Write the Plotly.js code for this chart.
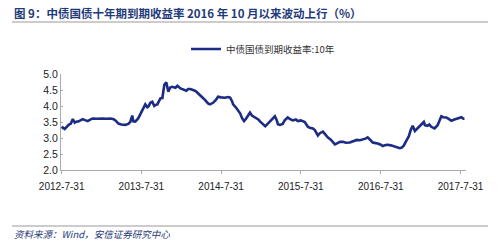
<!DOCTYPE html>
<html>
<head>
<meta charset="utf-8">
<script src="https://cdn.plot.ly/plotly-3.0.1.min.js"></script>
<style>html,body{margin:0;padding:0;background:#fff;}#chart{width:500px;height:241px;}</style>
</head>
<body>
<div id="chart"></div>
<script>
const dates = [
"2012-07-31","2012-08-05","2012-08-14","2012-08-23","2012-09-01","2012-09-11","2012-09-20","2012-09-29","2012-10-03","2012-10-17",
"2012-10-26","2012-11-04","2012-11-18","2012-11-27","2012-12-11","2012-12-20","2013-01-07","2013-01-26","2013-02-04","2013-02-22",
"2013-03-12","2013-03-26","2013-04-03","2013-04-17","2013-04-30","2013-05-18","2013-06-01","2013-06-10","2013-06-19","2013-06-24",
"2013-07-03","2013-07-17","2013-07-26","2013-08-04","2013-08-13","2013-08-18","2013-08-27","2013-09-01","2013-09-10","2013-09-19",
"2013-09-28","2013-10-03","2013-10-12","2013-10-21","2013-10-26","2013-11-04","2013-11-09","2013-11-13","2013-11-22","2013-11-27",
"2013-12-01","2013-12-10","2013-12-19","2014-01-03","2014-01-12","2014-01-26","2014-02-09","2014-02-22","2014-03-02","2014-03-11",
"2014-03-25","2014-04-07","2014-04-16","2014-04-26","2014-05-09","2014-05-18","2014-06-01","2014-06-10","2014-06-24","2014-07-08",
"2014-07-17","2014-07-31","2014-08-18","2014-09-01","2014-09-10","2014-09-19","2014-09-24","2014-10-07","2014-10-16","2014-10-26",
"2014-11-04","2014-11-13","2014-11-22","2014-12-01","2014-12-10","2014-12-19","2015-01-03","2015-01-17","2015-01-26","2015-02-04",
"2015-02-18","2015-03-02","2015-03-11","2015-03-20","2015-04-03","2015-04-12","2015-04-17","2015-04-26","2015-05-09","2015-05-18",
"2015-06-01","2015-06-10","2015-06-24","2015-07-08","2015-07-17","2015-07-31","2015-08-09","2015-08-18","2015-09-01","2015-09-10",
"2015-09-24","2015-10-03","2015-10-17","2015-10-26","2015-11-09","2015-11-22","2015-12-01","2015-12-15","2015-12-24","2016-01-03",
"2016-01-17","2016-01-26","2016-02-09","2016-02-22","2016-03-11","2016-03-25","2016-04-12","2016-04-26","2016-05-09","2016-05-22",
"2016-06-01","2016-06-10","2016-06-24","2016-07-08","2016-07-17","2016-07-31","2016-08-09","2016-08-22","2016-09-01","2016-09-15",
"2016-09-29","2016-10-16","2016-10-26","2016-11-04","2016-11-13","2016-11-27","2016-12-06","2016-12-15","2016-12-24","2017-01-03",
"2017-01-12","2017-01-26","2017-02-04","2017-02-13","2017-02-18","2017-03-01","2017-03-10","2017-03-19","2017-04-03","2017-04-17",
"2017-04-26","2017-05-04","2017-05-13","2017-05-27","2017-06-10","2017-06-19","2017-07-03","2017-07-12","2017-07-26","2017-08-04",
"2017-08-13","2017-08-18"
];
const yields = [
3.30,3.33,3.28,3.36,3.41,3.45,3.59,3.48,3.50,3.52,
3.55,3.59,3.55,3.53,3.58,3.61,3.60,3.62,3.61,3.60,
3.61,3.59,3.55,3.45,3.42,3.41,3.44,3.50,3.70,3.52,
3.51,3.62,3.74,3.82,3.95,4.05,3.96,3.98,4.10,4.13,
4.00,4.03,4.05,4.15,4.24,4.25,4.55,4.66,4.74,4.55,
4.45,4.58,4.60,4.57,4.63,4.55,4.50,4.48,4.53,4.53,
4.50,4.46,4.40,4.32,4.25,4.19,4.08,4.05,4.10,4.20,
4.29,4.27,4.26,4.28,4.26,4.15,4.05,3.95,3.85,3.77,
3.62,3.53,3.60,3.72,3.79,3.70,3.65,3.58,3.51,3.45,
3.37,3.45,3.51,3.60,3.68,3.55,3.43,3.41,3.44,3.55,
3.64,3.60,3.55,3.58,3.53,3.55,3.52,3.50,3.35,3.32,
3.30,3.25,3.08,3.15,3.20,3.10,3.02,2.95,2.88,2.80,
2.85,2.88,2.88,2.85,2.86,2.90,2.94,2.93,2.95,2.98,
3.02,2.95,2.86,2.84,2.83,2.79,2.75,2.78,2.79,2.77,
2.74,2.72,2.68,2.70,2.76,2.94,3.05,3.25,3.38,3.22,
3.28,3.38,3.45,3.50,3.40,3.38,3.42,3.35,3.30,3.40,
3.55,3.68,3.65,3.64,3.58,3.54,3.58,3.60,3.63,3.65,
3.60,3.60
];
const seriesName = "中债国债到期收益率:10年";
const tickDates = ["2012-07-31","2013-07-31","2014-07-31","2015-07-31","2016-07-31","2017-07-31"];
const tickLabels = ["2012-7-31","2013-7-31","2014-7-31","2015-7-31","2016-7-31","2017-7-31"];
const yTicks = [2.0,2.5,3.0,3.5,4.0,4.5,5.0];
const titleText = "图 9：中债国债十年期到期收益率 2016 年 10 月以来波动上行（%）";
const sourceText = "资料来源：Wind，安信证券研究中心";

const W = 500, H = 241, L = 61, R = 34, T = 74, B = 71;
const px = x => (x - L) / (W - L - R);
const py = y => (H - B - y) / (H - T - B);

const trace = {
  x: dates, y: yields, type: 'scatter', mode: 'lines', name: seriesName,
  line: {color: '#1c2b84', width: 2.6}
};

const layout = {
  width: W, height: H,
  margin: {l: L, r: R, t: T, b: B},
  paper_bgcolor: '#fff', plot_bgcolor: '#fff',
  font: {family: 'Liberation Sans, Arial, sans-serif', color: '#222', size: 10},
  showlegend: true,
  legend: {orientation: 'h', x: px(186), y: py(49), xanchor: 'left', yanchor: 'middle',
    font: {size: 9.5, color: '#333', family: 'Noto Sans CJK SC, sans-serif'}, bgcolor: 'rgba(0,0,0,0)', itemwidth: 30},
  xaxis: {type: 'date', range: ['2012-07-28','2017-08-25'], tickvals: tickDates, ticktext: tickLabels,
    showgrid: false, zeroline: false, showline: true, linecolor: '#aaa', linewidth: 1,
    ticks: 'outside', ticklen: 3, tickcolor: '#aaa', ticklabelstandoff: 4, tickfont: {size: 10, color: '#222'}},
  yaxis: {range: [2.0, 5.0], tickvals: yTicks, ticktext: yTicks.map(v => v.toFixed(1)),
    showgrid: false, zeroline: false, showline: true, linecolor: '#aaa', linewidth: 1,
    ticks: 'inside', ticklen: 2, tickcolor: '#aaa', tickfont: {size: 10.5, color: '#222'}},
  shapes: [
    {type: 'line', xref: 'paper', yref: 'paper', x0: px(12), x1: px(488), y0: py(22), y1: py(22), line: {color: '#999', width: 1}},
    {type: 'line', xref: 'paper', yref: 'paper', x0: px(12), x1: px(488), y0: py(226), y1: py(226), line: {color: '#999', width: 1}}
  ],
  annotations: [
    {text: '<b>' + titleText + '</b>', xref: 'paper', yref: 'paper', x: px(12), y: py(13), xanchor: 'left', yanchor: 'middle',
      showarrow: false, font: {size: 11.5, color: '#1f3a78', family: 'Noto Sans CJK SC, sans-serif'}},
    {text: '<i>' + sourceText + '</i>', xref: 'paper', yref: 'paper', x: px(12), y: py(234), xanchor: 'left', yanchor: 'middle',
      showarrow: false, font: {size: 9.5, color: '#1f3a78', family: 'Noto Sans CJK SC, sans-serif'}}
  ]
};

Plotly.newPlot('chart', [trace], layout, {staticPlot: true, displayModeBar: false});
</script>
</body>
</html>
